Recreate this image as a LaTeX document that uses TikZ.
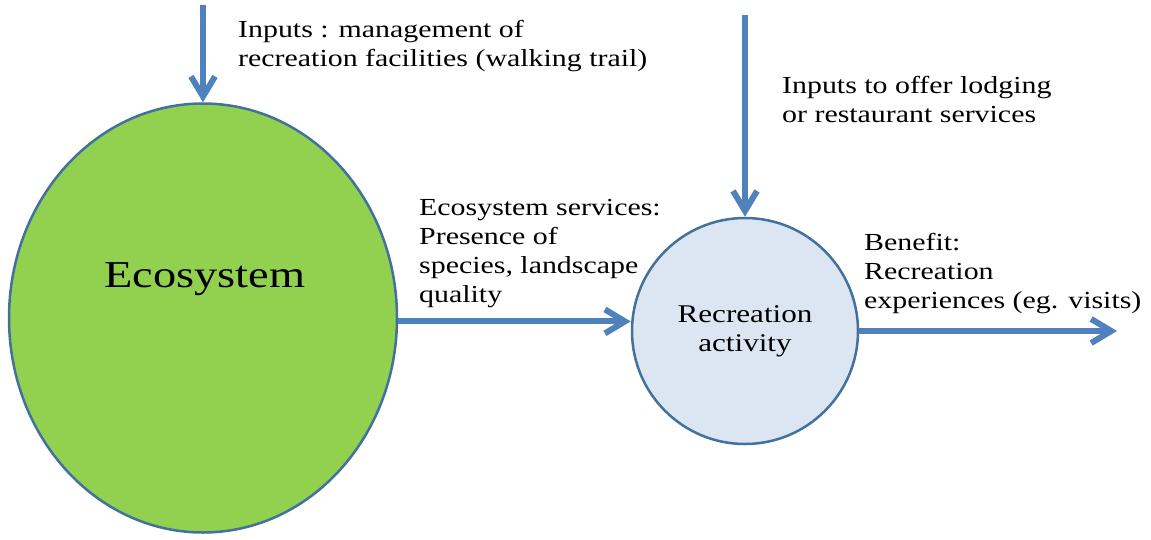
\documentclass[tikz,border=0pt]{standalone}
\usepackage{fontspec}
\setmainfont{Liberation Serif}[FakeStretch=1.22]
\usepackage{xcolor}
\usetikzlibrary{arrows.meta,shapes.geometric,calc}
\definecolor{arrowblue}{HTML}{4F81BD}
\definecolor{edgeblue}{HTML}{41719C}
\definecolor{ecogreen}{HTML}{92D050}
\definecolor{recfill}{HTML}{DCE6F2}
\newcommand\labfont{\fontsize{24.5}{29}\selectfont}
\newcommand\actfont{\fontsize{25.5}{29}\selectfont}
\newcommand\bigfont{\fontsize{38}{44}\selectfont}
\tikzset{
  flow/.style={draw=arrowblue, line width=6pt, line join=miter, -{Straight Barb[length=20pt,width=24pt]}},
  eco/.style={ellipse, draw=edgeblue, line width=2.5pt, fill=ecogreen, minimum width=388pt, minimum height=429pt, inner sep=0pt},
  act/.style={circle, draw=edgeblue, line width=2.5pt, fill=recfill, minimum size=226pt, inner sep=0pt, align=center, font=\actfont},
  lab/.style={font=\labfont, align=left, anchor=north west, inner sep=0pt},
  big/.style={font=\bigfont, inner sep=0pt},
}
\begin{document}
\begin{tikzpicture}[x=1pt,y=-1pt]
  \useasboundingbox (0,0) rectangle (1151,539);
  % the two boxes
  \node[eco] (eco) at (203,318) {};
  \node[big] (ecoText) at (205,279) {Ecosystem};
  \node[act] (rec) at (745,331) {Recreation\\activity};
  % free ends of the arrows
  \coordinate (inEco) at (203,5);
  \coordinate (inRec) at (745,15);
  \coordinate (outRec) at (1117,331);
  \draw[flow] (inEco) -- (eco.north);
  \draw[flow] (inRec) -- (rec.north);
  \draw[flow] (eco.-1) -- (eco.-1 -| rec.west);
  \draw[flow] (rec.east) -- (outRec);
  % labels
  \node[lab] (inEcoText) at (238,20) {Inputs : management of\\recreation facilities (walking trail)};
  \node[lab] (inRecText) at (782,76) {Inputs to offer lodging\\or restaurant services};
  \node[lab] (esText) at (419,199) {Ecosystem services:\\Presence of\\species, landscape\\quality};
  \node[lab] (benText) at (864,233) {Benefit:\\Recreation\\experiences (eg. visits)};
\end{tikzpicture}
\end{document}
